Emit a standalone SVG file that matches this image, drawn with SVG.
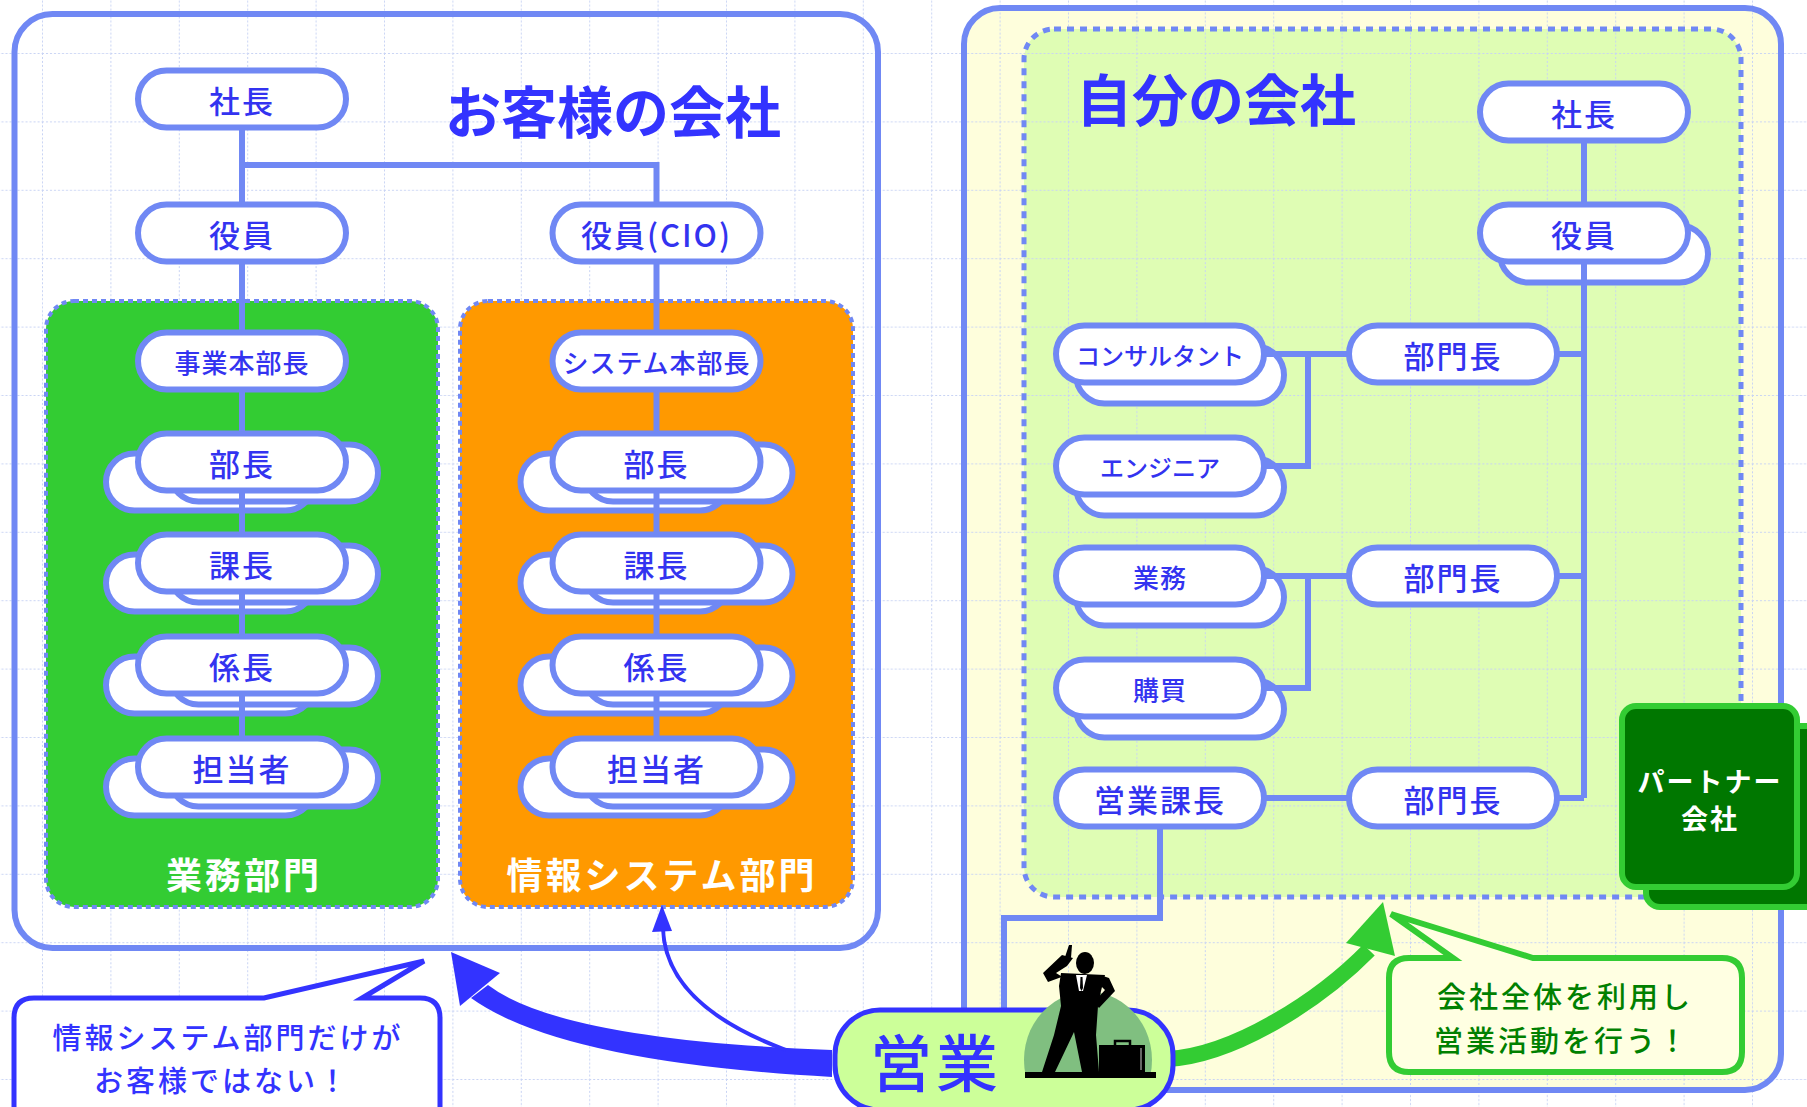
<svg xmlns="http://www.w3.org/2000/svg" width="1807" height="1107" viewBox="0 0 1807 1107">
<defs>
  <pattern id="grid" x="42" y="53" width="68.4" height="68.4" patternUnits="userSpaceOnUse">
    <path d="M0.5 0V68.4M0 0.5H68.4" fill="none" stroke="#c8d3f4" stroke-width="1" stroke-dasharray="2 2"/>
  </pattern>
  <style>
    .frame { fill:none; stroke:#7088F4; stroke-width:6; }
    .panel { stroke:#7088F4; stroke-width:4; stroke-dasharray:5 4; }
    .node { fill:#ffffff; stroke:#7088F4; stroke-width:6; }
    .conn { fill:none; stroke:#7088F4; stroke-width:6; }
    .t { font-family:"Noto Sans CJK JP","Noto Sans",sans-serif; font-weight:500; fill:#3333F0; text-anchor:middle; dominant-baseline:central; }
    .f30 { font-size:31px; letter-spacing:2px; }
    .f26 { font-size:26px; letter-spacing:1px; }
    .f24 { font-size:24px; letter-spacing:0px; }
    .f25 { font-size:26px; letter-spacing:1px; }
    .title { font-family:"Noto Sans CJK JP","Noto Sans",sans-serif; font-weight:bold; font-size:56px; fill:#3333FF; text-anchor:middle; dominant-baseline:central; }
    .plabel { font-family:"Noto Sans CJK JP","Noto Sans",sans-serif; font-weight:bold; font-size:36px; letter-spacing:3px; fill:#ffffff; text-anchor:middle; dominant-baseline:central; }
    .note { font-family:"Noto Sans CJK JP","Noto Sans",sans-serif; font-weight:500; font-size:29px; letter-spacing:3px; text-anchor:middle; dominant-baseline:central; }
  </style>
</defs>

<!-- page -->
<rect x="0" y="0" width="1807" height="1107" fill="#ffffff"/>

<!-- own company background fills -->
<rect x="964" y="8" width="817" height="1082" rx="36" fill="#FEFEDC"/>
<rect x="1024" y="29" width="717" height="868" rx="30" fill="#DFFDB4"/>

<!-- guide grid -->
<rect x="0" y="0" width="1807" height="1107" fill="url(#grid)"/>

<!-- company frames -->
<rect class="frame" x="14.5" y="14" width="863.5" height="934" rx="38"/>
<rect class="frame" x="964" y="8" width="817" height="1082" rx="36"/>
<rect x="1024" y="29" width="717" height="868" rx="30" fill="none" stroke="#7088F4" stroke-width="5" stroke-dasharray="7 6"/>

<!-- departments -->
<rect class="panel" x="46" y="301" width="392" height="606" rx="28" fill="#33CC33"/>
<rect class="panel" x="460" y="301" width="393" height="606" rx="28" fill="#FF9900"/>

<!-- stacked shadow pills -->
<g id="stack-backs" class="node">
  <rect x="106" y="453.5" width="208" height="57" rx="28.5"/><rect x="170" y="444.5" width="208" height="57" rx="28.5"/>
  <rect x="106" y="554.5" width="208" height="57" rx="28.5"/><rect x="170" y="545.5" width="208" height="57" rx="28.5"/>
  <rect x="106" y="656.5" width="208" height="57" rx="28.5"/><rect x="170" y="647.5" width="208" height="57" rx="28.5"/>
  <rect x="106" y="758.5" width="208" height="57" rx="28.5"/><rect x="170" y="749.5" width="208" height="57" rx="28.5"/>
  <rect x="520.5" y="453.5" width="208" height="57" rx="28.5"/><rect x="584.5" y="444.5" width="208" height="57" rx="28.5"/>
  <rect x="520.5" y="554.5" width="208" height="57" rx="28.5"/><rect x="584.5" y="545.5" width="208" height="57" rx="28.5"/>
  <rect x="520.5" y="656.5" width="208" height="57" rx="28.5"/><rect x="584.5" y="647.5" width="208" height="57" rx="28.5"/>
  <rect x="520.5" y="758.5" width="208" height="57" rx="28.5"/><rect x="584.5" y="749.5" width="208" height="57" rx="28.5"/>
  <rect x="1500" y="225.5" width="208" height="57" rx="28.5"/>
  <rect x="1076" y="346.5" width="208" height="57" rx="28.5"/>
  <rect x="1076" y="458.5" width="208" height="57" rx="28.5"/>
  <rect x="1076" y="568.5" width="208" height="57" rx="28.5"/>
  <rect x="1076" y="680.5" width="208" height="57" rx="28.5"/>
</g>

<!-- connectors -->
<g id="connectors" class="conn">
  <path d="M242 99V767"/>
  <path d="M242 165H656.5V767"/>
  <path d="M1584 112V798"/>
  <path d="M1160 354H1584"/>
  <path d="M1308 354V466H1160"/>
  <path d="M1160 576H1584"/>
  <path d="M1308 576V688H1160"/>
  <path d="M1160 798H1584"/>
  <path d="M1160 798V918H1004V1010"/>
</g>

<!-- customer company nodes -->
<g id="c-president"><rect class="node" x="138" y="70.5" width="208" height="57" rx="28.5"/><text class="t f30" x="242" y="99">社長</text></g>
<g id="c-officer"><rect class="node" x="138" y="204.5" width="208" height="57" rx="28.5"/><text class="t f30" x="242" y="233">役員</text></g>
<g id="c-cio"><rect class="node" x="552.5" y="204.5" width="208" height="57" rx="28.5"/><text class="t f30" x="656.5" y="233" letter-spacing="0">役員(CIO)</text></g>
<g id="c-biz-head"><rect class="node" x="138" y="332.5" width="208" height="57" rx="28.5"/><text class="t f26" x="242" y="361">事業本部長</text></g>
<g id="c-sys-head"><rect class="node" x="552.5" y="332.5" width="208" height="57" rx="28.5"/><text class="t f26" x="656.5" y="361">システム本部長</text></g>
<g id="c-biz-bucho"><rect class="node" x="138" y="433.5" width="208" height="57" rx="28.5"/><text class="t f30" x="242" y="462">部長</text></g>
<g id="c-biz-kacho"><rect class="node" x="138" y="534.5" width="208" height="57" rx="28.5"/><text class="t f30" x="242" y="563">課長</text></g>
<g id="c-biz-kakaricho"><rect class="node" x="138" y="636.5" width="208" height="57" rx="28.5"/><text class="t f30" x="242" y="665">係長</text></g>
<g id="c-biz-staff"><rect class="node" x="138" y="738.5" width="208" height="57" rx="28.5"/><text class="t f30" x="242" y="767">担当者</text></g>
<g id="c-sys-bucho"><rect class="node" x="552.5" y="433.5" width="208" height="57" rx="28.5"/><text class="t f30" x="656.5" y="462">部長</text></g>
<g id="c-sys-kacho"><rect class="node" x="552.5" y="534.5" width="208" height="57" rx="28.5"/><text class="t f30" x="656.5" y="563">課長</text></g>
<g id="c-sys-kakaricho"><rect class="node" x="552.5" y="636.5" width="208" height="57" rx="28.5"/><text class="t f30" x="656.5" y="665">係長</text></g>
<g id="c-sys-staff"><rect class="node" x="552.5" y="738.5" width="208" height="57" rx="28.5"/><text class="t f30" x="656.5" y="767">担当者</text></g>

<!-- own company nodes -->
<g id="o-president"><rect class="node" x="1480" y="83.5" width="208" height="57" rx="28.5"/><text class="t f30" x="1584" y="112">社長</text></g>
<g id="o-officer"><rect class="node" x="1480" y="204.5" width="208" height="57" rx="28.5"/><text class="t f30" x="1584" y="233">役員</text></g>
<g id="o-consultant"><rect class="node" x="1056" y="325.5" width="208" height="57" rx="28.5"/><text class="t f24" x="1160" y="354">コンサルタント</text></g>
<g id="o-engineer"><rect class="node" x="1056" y="437.5" width="208" height="57" rx="28.5"/><text class="t f24" x="1160" y="466">エンジニア</text></g>
<g id="o-gyomu"><rect class="node" x="1056" y="547.5" width="208" height="57" rx="28.5"/><text class="t f25" x="1160" y="576">業務</text></g>
<g id="o-purchase"><rect class="node" x="1056" y="659.5" width="208" height="57" rx="28.5"/><text class="t f25" x="1160" y="688">購買</text></g>
<g id="o-sales-kacho"><rect class="node" x="1056" y="769.5" width="208" height="57" rx="28.5"/><text class="t f30" x="1160" y="798">営業課長</text></g>
<g id="o-div1"><rect class="node" x="1349" y="325.5" width="208" height="57" rx="28.5"/><text class="t f30" x="1453" y="354">部門長</text></g>
<g id="o-div2"><rect class="node" x="1349" y="547.5" width="208" height="57" rx="28.5"/><text class="t f30" x="1453" y="576">部門長</text></g>
<g id="o-div3"><rect class="node" x="1349" y="769.5" width="208" height="57" rx="28.5"/><text class="t f30" x="1453" y="798">部門長</text></g>

<!-- partner company -->
<g id="partner">
  <rect x="1646" y="726" width="190" height="181" rx="14" fill="#007700" stroke="#33CC33" stroke-width="6"/>
  <rect x="1622" y="706" width="175" height="181" rx="14" fill="#007700" stroke="#33CC33" stroke-width="6"/>
  <text x="1710" y="780" font-family="'Noto Sans CJK JP','Noto Sans',sans-serif" font-weight="bold" font-size="27" letter-spacing="2" fill="#ffffff" text-anchor="middle" dominant-baseline="central">パートナー</text>
  <text x="1710" y="817" font-family="'Noto Sans CJK JP','Noto Sans',sans-serif" font-weight="bold" font-size="27" letter-spacing="2" fill="#ffffff" text-anchor="middle" dominant-baseline="central">会社</text>
</g>

<!-- headings -->
<text class="title" x="613" y="108">お客様の会社</text>
<text class="title" x="1216" y="96">自分の会社</text>
<text class="plabel" x="244" y="873">業務部門</text>
<text class="plabel" x="662" y="873">情報システム部門</text>

<!-- arrows from sales -->
<g id="arrows">
  <path d="M488 985Q560 1040 832 1050L832 1077Q560 1062 471 998Z" fill="#3333FF"/>
  <polygon points="451,952 460,1006 500,973" fill="#3333FF"/>
  <path d="M786 1050Q665 1005 663 928" fill="none" stroke="#3333FF" stroke-width="4"/>
  <polygon points="662,905 652,932 672,931" fill="#3333FF"/>
  <path d="M1168 1059C1235 1055 1320 1000 1369 950" fill="none" stroke="#33CC33" stroke-width="16"/>
  <polygon points="1383,902 1346,943 1395,956" fill="#33CC33"/>
</g>

<!-- callouts -->
<g id="callout-left">
  <path d="M34 998H264L424 961L362 998H420Q440 998 440 1018V1125H14V1018Q14 998 34 998Z" fill="#ffffff" stroke="#3333FF" stroke-width="5"/>
  <text class="note" x="228" y="1036" fill="#3333FF">情報システム部門だけが</text>
  <text class="note" x="222" y="1079" fill="#3333FF">お客様ではない！</text>
</g>
<g id="callout-right">
  <path d="M1409 958H1453L1391 914L1533 958H1722Q1742 958 1742 978V1052Q1742 1072 1722 1072H1409Q1389 1072 1389 1052V978Q1389 958 1409 958Z" fill="#FFFFE2" stroke="#33CC33" stroke-width="6"/>
  <text class="note" x="1565" y="995" fill="#008000">会社全体を利用し</text>
  <text class="note" x="1562" y="1039" fill="#008000">営業活動を行う！</text>
</g>

<!-- sales -->
<g id="sales">
  <rect x="835" y="1010" width="338" height="100" rx="45" fill="#CCFF99" stroke="#3333FF" stroke-width="5"/>
  <text x="936" y="1060" font-family="'Noto Sans CJK JP','Noto Sans',sans-serif" font-weight="500" font-size="62" letter-spacing="4" fill="#3333FF" text-anchor="middle" dominant-baseline="central">営業</text>
  <path d="M1025.6 1075A64 68 0 1 1 1150.4 1075Z" fill="#80BF80"/>
  <!-- salesman on the phone -->
  <g fill="#000000">
    <ellipse cx="1085" cy="963" rx="9" ry="11"/>
    <polygon points="1061,973 1105,975 1101,991 1098,1006 1096,1035 1099,1072 1082,1072 1074,1032 1055,1072 1042,1072 1054,1035 1061,1006 1059,986"/>
    <polygon points="1100,975 1109,978 1115,991 1099,1008 1094,1002 1105,990 1098,983"/>
    <polygon points="1067,975 1048,982 1043,973 1062,955 1073,958 1067,966 1056,973 1069,981"/>
    <polygon points="1065,957 1069,945 1072,945 1071,958"/>
    <rect x="1099" y="1045" width="46" height="27"/>
    <path d="M1115 1046V1041H1130V1046" fill="none" stroke="#000000" stroke-width="2.5"/>
    <rect x="1025" y="1072" width="131" height="6"/>
  </g>
  <polygon points="1076,975 1087,975 1083,991 1079,991" fill="#ffffff"/>
  <polygon points="1080.5,977 1082.5,977 1083,988 1081.5,991 1080,988" fill="#000000"/>
  <line x1="1141" y1="1048" x2="1141" y2="1070" stroke="#cccccc" stroke-width="1"/>
</g>
</svg>
